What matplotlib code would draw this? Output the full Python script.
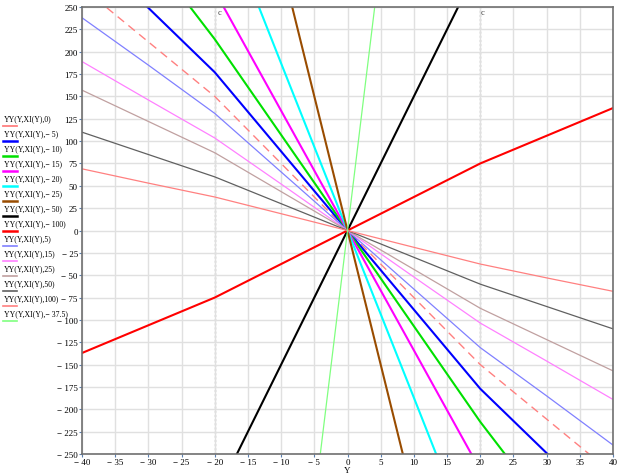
"""
Mathcad-style family of YY(Y, XI(Y), k) curves
"""

import matplotlib
matplotlib.use("Agg")
import matplotlib.pyplot as plt
import numpy as np

# sample points along Y
Y = [-40, -30, -20, -10, 0, 10, 20, 30, 40]

# curve parameter (legend order) and values
params = ["0", "− 5", "− 10", "− 15", "− 20", "− 25", "− 50", "− 100",
          "5", "15", "25", "50", "100", "− 37.5"]
yy_0 = [272, 211, 150, 75, 0, -75, -150, -211, -272]
yy_m5 = [321, 249, 177, 88.5, 0, -88.5, -177, -249, -321]
yy_m10 = [408, 311, 214, 107, 0, -107, -214, -311, -408]
yy_m15 = [510, 390, 268, 134, 0, -134, -268, -390, -510]
yy_m20 = [740, 560, 375, 187, 0, -187, -375, -560, -740]
yy_m25 = [1200, 900, 600, 300, 0, -300, -600, -900, -1200]
yy_m50 = [-600, -450, -300, -150, 0, 150, 300, 450, 600]
yy_m100 = [-137, -106, -75, -37.5, 0, 37.5, 75, 106, 137]
yy_5 = [238, 185, 131, 65.5, 0, -65.5, -131, -185, -240]
yy_15 = [189, 146, 103.5, 52, 0, -52, -103.5, -146, -189]
yy_25 = [157, 122, 87, 43.5, 0, -43.5, -87, -122, -157]
yy_50 = [110, 85, 60, 30, 0, -30, -60, -85, -110]
yy_100 = [69, 53, 37.5, 18.8, 0, -18.8, -37.5, -53, -68]
yy_m375 = [-2440, -1830, -1220, -610, 0, 610, 1220, 1830, 2440]

series = [yy_0, yy_m5, yy_m10, yy_m15, yy_m20, yy_m25, yy_m50, yy_m100,
          yy_5, yy_15, yy_25, yy_50, yy_100, yy_m375]

# trace styles (colour, width, dash)
colors = ["#ff8080", "#0000ff", "#00e000", "#ff00ff", "#00ffff", "#994c00",
          "#000000", "#ff0000", "#8080ff", "#ff80ff", "#c0a0a0", "#606060",
          "#ff8080", "#80ff80"]
widths = [1.0, 1.5, 1.5, 1.5, 1.5, 1.5, 1.5, 1.5, 0.9, 0.9, 0.9, 0.9, 0.9, 0.9]
dashes = ["--", "-", "-", "-", "-", "-", "-", "-", "-", "-", "-", "-", "-", "-"]

xticks = np.arange(-40, 41, 5)
yticks = np.arange(-250, 251, 25)


def mc_label(v):
    # Mathcad writes negatives as "− 35"
    return "− %d" % abs(v) if v < 0 else "%d" % v


if __name__ == "__main__":
    plt.rcParams["font.family"] = ["Liberation Serif", "DejaVu Serif"]
    fig = plt.figure(figsize=(6.24, 4.77), dpi=100)
    ax = fig.add_axes([0.1314, 0.0461, 0.851, 0.9371])

    for k, ys in enumerate(series):
        if dashes[k] == "--":
            ax.plot(Y, ys, color=colors[k], lw=widths[k], dashes=(6, 4))
        else:
            ax.plot(Y, ys, color=colors[k], lw=widths[k])

    # markers at Y = +-20
    for xm in (-20, 20):
        ax.axvline(xm, color="#a0a0a0", lw=1.0, ls=(0, (1.5, 1.5)), zorder=0)
    ax.text(-19.6, 244, "c", fontsize=6, color="#404040", ha="left", va="center")
    ax.text(20.1, 244, "c", fontsize=6, color="#404040", ha="left", va="center")

    ax.set_xlim(-40, 40)
    ax.set_ylim(-250, 250)
    ax.set_xticks(xticks)
    ax.set_yticks(yticks)
    ax.set_xticklabels([mc_label(v) for v in xticks])
    ax.set_yticklabels([mc_label(v) for v in yticks])
    ax.grid(True, color="#e0e0e0", lw=1.0, zorder=0)
    ax.set_axisbelow(True)
    ax.tick_params(labelsize=6.5, length=2, width=0.8, color="#5a7fb0", pad=1)
    for s in ax.spines.values():
        s.set_color("#707070")
        s.set_linewidth(1.2)
    ax.set_xlabel("Y", fontsize=6.5, labelpad=0)

    # legend down the left side, one line sample under each label
    for k, p in enumerate(params):
        ty = 1 - (119 + 15 * k) / 477.0
        fig.text(4 / 624.0, ty, "YY(Y,XI(Y)," + p + ")", fontsize=5.6,
                 va="center", ha="left")
        ly = ty - 8 / 477.0
        fig.lines.append(plt.Line2D([3 / 624.0, 17 / 624.0], [ly, ly],
                                    transform=fig.transFigure, color=colors[k],
                                    lw=widths[k] + 0.3))

    fig.savefig("out.png", dpi=100)
